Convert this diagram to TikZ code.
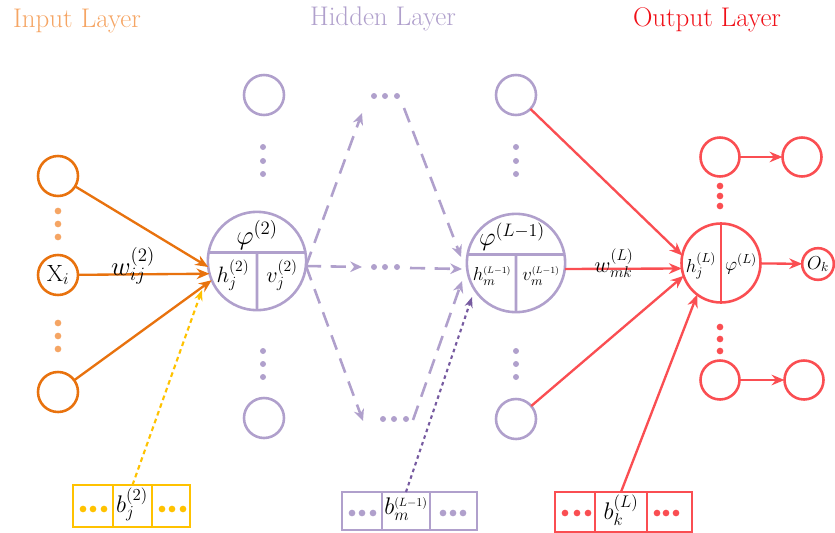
\RequirePackage{fix-cm}
\documentclass[tikz,border=0pt]{standalone}
\usetikzlibrary{arrows.meta,calc}
\definecolor{inorange}{RGB}{232,114,14}
\definecolor{inlight}{RGB}{245,165,100}
\definecolor{hidp}{RGB}{176,160,204}
\definecolor{darkp}{RGB}{118,90,160}
\definecolor{outred}{RGB}{250,78,82}
\definecolor{titred}{RGB}{240,16,24}
\definecolor{gold}{RGB}{255,194,0}
\begin{document}
\begin{tikzpicture}[x=0.03cm, y=-0.03cm,
  sc/.style={circle, draw, line width=2.2pt, minimum size=1.2cm, inner sep=0pt, outer sep=0pt},
  bc/.style={circle, draw, line width=2.2pt, minimum size=2.95cm, inner sep=0pt, outer sep=0pt},
  cell/.style={rectangle, draw, line width=2pt, inner sep=0pt, outer sep=0pt},
  title/.style={font=\fontsize{23}{27}\selectfont, anchor=base, inner sep=0pt},
  lab/.style={font=\fontsize{19}{22}\selectfont, inner sep=0pt},
  blab/.style={font=\fontsize{20.5}{24}\selectfont, inner sep=0pt},
  plab/.style={font=\fontsize{23}{27}\selectfont, inner sep=0pt},
  slab/.style={font=\fontsize{16}{19}\selectfont, inner sep=0pt},
  oarr/.style={inorange, line width=2pt, -{Stealth[length=11pt,width=9pt]}},
  rarr/.style={outred, line width=2pt, -{Stealth[length=11pt,width=9pt]}},
  hdash/.style={hidp, line width=2.2pt, dash pattern=on 13pt off 8pt, -{Stealth[length=10pt,width=9pt]}},
  ydot/.style={gold, line width=1.8pt, dash pattern=on 4pt off 3pt, -{Stealth[length=9pt,width=7pt]}},
  pdot/.style={darkp, line width=1.8pt, dash pattern=on 3pt off 3pt, -{Stealth[length=9pt,width=7pt]}},
]
\useasboundingbox (0,0) rectangle (835,533);

% titles
\node[title, text=inlight] (tin) at (77,27) {Input Layer};
\node[title, text=hidp] (thid) at (383,25) {Hidden Layer};
\node[title, text=titred] (tout) at (707,26) {Output Layer};

% input layer
\node[sc, draw=inorange] (i1) at (58,176) {};
\node[sc, draw=inorange, font=\fontsize{20}{24}\selectfont] (i2) at (58,275) {$\mathrm{X}_i$};
\node[sc, draw=inorange] (i3) at (58,392) {};
\foreach \y in {211,224,237,323,336,349} \fill[inlight] (58,\y) circle (0.1cm);

% hidden layer big nodes
\node[bc, draw=hidp] (n1) at (257,261) {};
\draw[hidp, line width=2.2pt] (n1.170) -- (n1.10);
\draw[hidp, line width=2.2pt] ($(n1.170)!0.5!(n1.10)$) -- (n1.south);
\node[plab] (p1) at (257,235) {$\varphi^{(2)}$};
\node[lab] (h1) at (233,275) {$h_j^{(2)}$};
\node[lab] (v1) at (282,275) {$v_j^{(2)}$};

\node[bc, draw=hidp] (n2) at (516,263) {};
\draw[hidp, line width=2.2pt] (n2.170) -- (n2.10);
\draw[hidp, line width=2.2pt] ($(n2.170)!0.5!(n2.10)$) -- (n2.south);
\node[font=\fontsize{22}{26}\selectfont, inner sep=0pt] (p2) at (512,237) {$\varphi^{(L-1)}$};
\node[slab] (h2) at (492,276) {$h_m^{\scriptscriptstyle(L-1)}$};
\node[slab] (v2) at (541,276) {$v_m^{\scriptscriptstyle(L-1)}$};

% hidden small nodes
\node[sc, draw=hidp] (a1) at (264,95) {};
\node[sc, draw=hidp] (a2) at (264,418) {};
\node[sc, draw=hidp] (b1) at (516,95) {};
\node[sc, draw=hidp] (b2) at (516,419) {};
\foreach \y in {147,161,174,351,364,377} {
  \fill[hidp] (263,\y) circle (0.09cm);
  \fill[hidp] (516,\y) circle (0.09cm);
}
\foreach \x in {374,385,397} {
  \fill[hidp] (\x,96) circle (0.09cm);
  \fill[hidp] (\x,267) circle (0.09cm);
}
\foreach \x in {383,394,406} \fill[hidp] (\x,419) circle (0.09cm);

% dashed connector coordinates
\coordinate (tA) at (362,113);
\coordinate (tB) at (404,108);
\coordinate (tC) at (461,257);
\coordinate (mA) at (362,267);
\coordinate (mB) at (410,268);
\coordinate (mC) at (462,269);
\coordinate (bA) at (363,421);
\coordinate (bB) at (413,420);
\coordinate (bC) at (462,281);
\coordinate (s1) at (306,266);
\draw[hdash] (s1) -- (tA);
\draw[hdash] (tB) -- (tC);
\draw[hdash] (s1) -- (mA);
\draw[hdash] (mB) -- (mC);
\draw[hdash] (s1) -- (bA);
\draw[hdash] (bB) -- (bC);

% input arrows
\draw[oarr] (i1) -- (n1.187);
\draw[oarr] (i2) -- (n1.195);
\draw[oarr] (i3) -- (n1.203);
\node[plab] (w1) at (133,266) {$w_{ij}^{(2)}$};

% output layer
\node[circle, draw=outred, line width=2.2pt, minimum size=2.37cm, inner sep=0pt, outer sep=0pt] (n3) at (721,263) {};
\draw[outred, line width=2.2pt] (n3.north) -- (n3.south);
\node[slab] (h3) at (701,266) {$h_j^{(L)}$};
\node[slab] (p3) at (741,264) {$\varphi^{(L)}$};

\draw[rarr] (b1) -- (n3.169);
\draw[rarr] (n2.353) -- (n3.188);
\draw[rarr] (b2) -- (n3.199);
\node[lab] (w2) at (614,263) {$w_{mk}^{(L)}$};

\node[sc, draw=outred, minimum size=1.17cm] (o1) at (720,157) {};
\node[sc, draw=outred, minimum size=1.17cm] (o2) at (802,157) {};
\node[sc, draw=outred, minimum size=1.17cm] (o3) at (720,380) {};
\node[sc, draw=outred, minimum size=1.17cm] (o4) at (804,380) {};
\node[sc, draw=outred, minimum size=0.95cm, font=\fontsize{16}{19}\selectfont] (ok) at (818,264) {$O_k$};
\draw[rarr] (o1) -- (o2);
\draw[rarr] (n3) -- (ok);
\draw[rarr] (o3) -- (o4);
\foreach \y in {186,196,206,327,339,351} \fill[outred] (720,\y) circle (0.1cm);

% bias boxes
\node[cell, draw=gold, minimum width=1.2cm, minimum height=1.26cm] (yl) at (93,506) {};
\node[cell, draw=gold, minimum width=1.17cm, minimum height=1.26cm] (yb) at (132.5,506) {};
\node[cell, draw=gold, minimum width=1.14cm, minimum height=1.26cm] (yr) at (171,506) {};
\node[blab] (yt) at (132,504) {$b_j^{(2)}$};
\foreach \x in {83,93,104,162,172,183} \fill[gold] (\x,509) circle (0.1cm);
\coordinate (ye) at (202,290);
\draw[ydot] (yb.north) -- (ye);

\node[cell, draw=hidp, minimum width=1.2cm, minimum height=1.14cm] (pl) at (362,511) {};
\node[cell, draw=hidp, minimum width=1.44cm, minimum height=1.14cm] (pb) at (406,511) {};
\node[cell, draw=hidp, minimum width=1.41cm, minimum height=1.14cm] (pr) at (453.5,511) {};
\node[blab] (pt) at (406,509) {$b_m^{\scriptscriptstyle(L-1)}$};
\foreach \x in {352,362,373,443,453,463} \fill[hidp] (\x,513) circle (0.1cm);
\coordinate (pe) at (472,297);
\draw[pdot] (pb.north) -- (pe);

\node[cell, draw=outred, minimum width=1.2cm, minimum height=1.2cm] (rl) at (575,512) {};
\node[cell, draw=outred, minimum width=1.56cm, minimum height=1.2cm] (rb) at (621,512) {};
\node[cell, draw=outred, minimum width=1.35cm, minimum height=1.2cm] (rr) at (669.5,512) {};
\node[blab] (rt) at (621,510) {$b_k^{(L)}$};
\foreach \x in {565,577,588,657,666,676} \fill[outred] (\x,513) circle (0.1cm);
\draw[rarr] (rb.north) -- (n3.233);
\end{tikzpicture}
\end{document}
